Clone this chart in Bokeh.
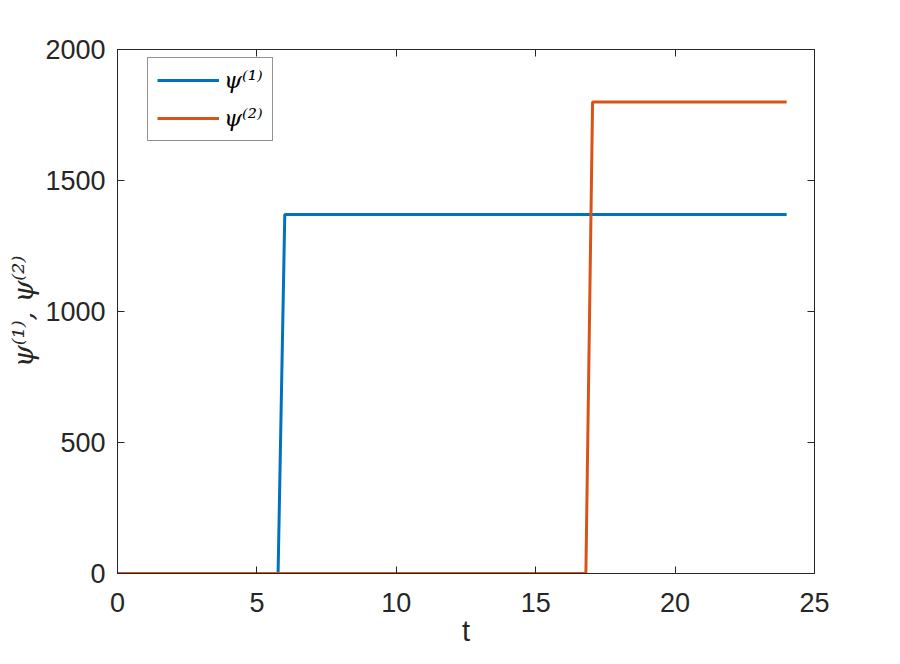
from bokeh.plotting import figure
from bokeh.models import Range1d, LinearAxis, FixedTicker, Legend, LegendItem
from bokeh.embed import file_html
from bokeh.resources import INLINE

# Data
t = [0, 5.76, 6.0, 16.8, 17.04, 24]
psi1 = [0, 0, 1370, 1370, 1370, 1370]
psi2 = [0, 0, 0, 0, 1800, 1800]
x_ticks = [0, 5, 10, 15, 20, 25]
y_ticks = [0, 500, 1000, 1500, 2000]
series_labels = ["ψ⁽¹⁾", "ψ⁽²⁾"]
series_colors = ["#0072BD", "#D95319"]
x_label = "t"
y_label = "ψ⁽¹⁾, ψ⁽²⁾"

AX = "#262626"

p = figure(width=892, height=656, output_backend="svg", toolbar_location=None,
           x_range=Range1d(0, 25), y_range=Range1d(0, 2000),
           min_border_left=117, min_border_top=49, min_border_right=78, min_border_bottom=83,
           background_fill_color="white", border_fill_color="white")
p.grid.visible = False
p.outline_line_color = AX
p.outline_line_width = 1

def style_axis(ax, ticks, show_labels=True):
    ax.ticker = FixedTicker(ticks=ticks)
    ax.major_tick_in = 7
    ax.major_tick_out = 0
    ax.minor_tick_line_color = None
    ax.axis_line_color = AX
    ax.major_tick_line_color = AX
    ax.major_label_text_color = AX
    ax.major_label_text_font = "Liberation Sans"
    ax.major_label_text_font_size = "27px"
    if not show_labels:
        ax.major_label_text_font_size = "0px"
        ax.major_label_text_color = None

style_axis(p.xaxis[0], x_ticks)
style_axis(p.yaxis[0], y_ticks)
p.xaxis[0].major_label_standoff = 19
p.yaxis[0].major_label_standoff = 12

p.xaxis[0].axis_label = x_label
p.xaxis[0].axis_label_text_font = "Liberation Sans"
p.xaxis[0].axis_label_text_font_style = "normal"
p.xaxis[0].axis_label_text_font_size = "29px"
p.xaxis[0].axis_label_text_color = AX
p.xaxis[0].axis_label_standoff = 0

p.yaxis[0].axis_label = y_label
p.yaxis[0].axis_label_text_font = "DejaVu Serif"
p.yaxis[0].axis_label_text_font_style = "italic"
p.yaxis[0].axis_label_text_font_size = "28px"
p.yaxis[0].axis_label_text_color = AX
p.yaxis[0].axis_label_standoff = 2

top_ax = LinearAxis()
style_axis(top_ax, x_ticks, show_labels=False)
p.add_layout(top_ax, "above")
right_ax = LinearAxis()
style_axis(right_ax, y_ticks, show_labels=False)
p.add_layout(right_ax, "right")

r1 = p.line(t, psi1, line_color=series_colors[0], line_width=3)
r2 = p.line(t, psi2, line_color=series_colors[1], line_width=3)

legend = Legend(items=[LegendItem(label=series_labels[0], renderers=[r1]),
                       LegendItem(label=series_labels[1], renderers=[r2])],
                location=(30, 432), orientation="vertical")
legend.label_text_font = "DejaVu Serif"
legend.label_text_font_style = "italic"
legend.label_text_font_size = "23px"
legend.label_text_color = "black"
legend.glyph_width = 62
legend.glyph_height = 20
legend.label_height = 20
legend.label_standoff = 5
legend.spacing = 12
legend.padding = 9
legend.margin = 0
legend.border_line_color = AX
legend.border_line_width = 1
legend.background_fill_color = "white"
legend.background_fill_alpha = 1
p.add_layout(legend, "center")

open("out.html", "w").write(file_html(p, INLINE))
